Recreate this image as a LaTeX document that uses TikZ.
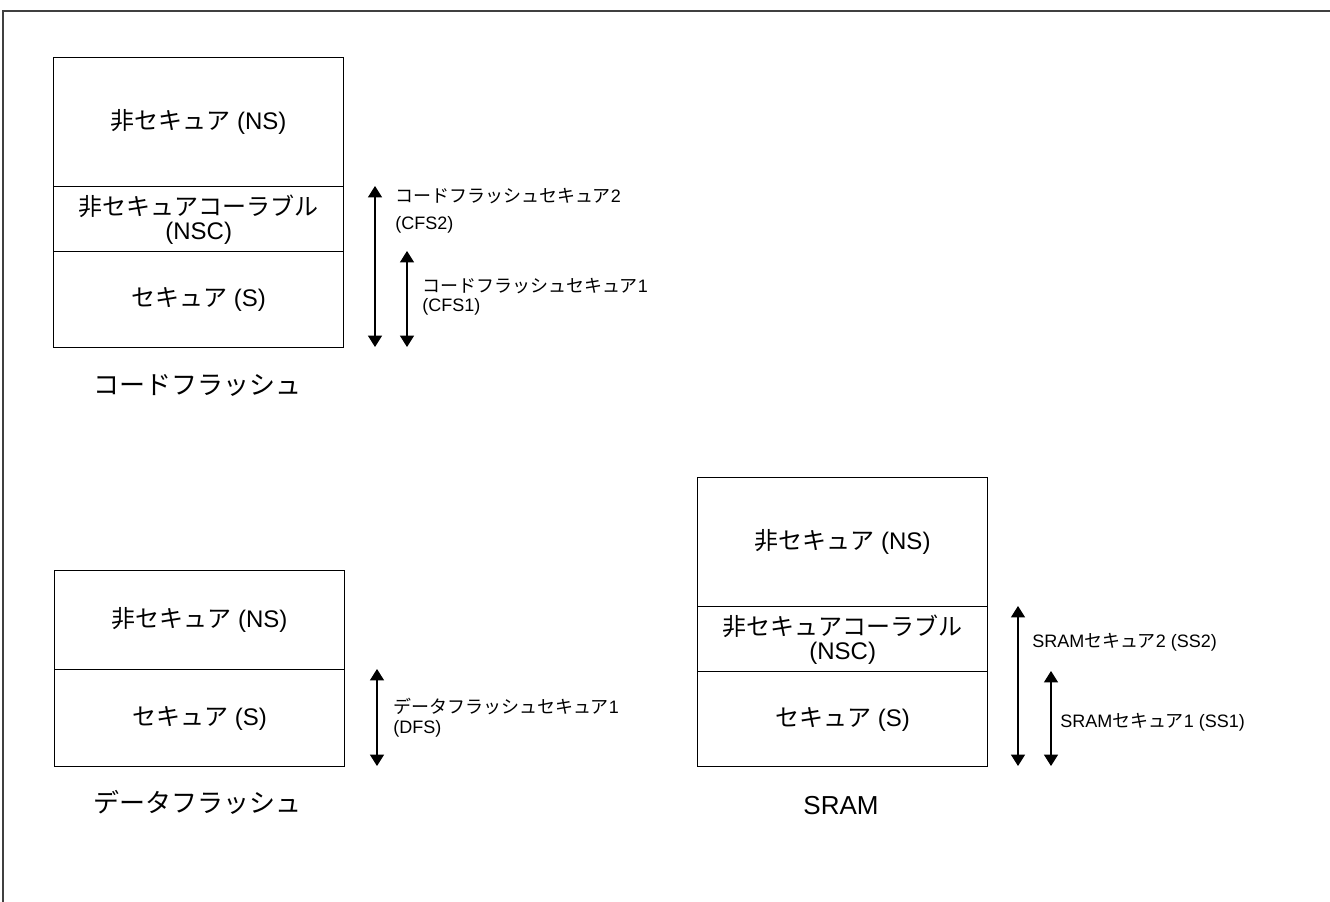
\documentclass[tikz,border=0pt]{standalone}
\usepackage{fontspec}
\setmainfont{Liberation Sans}
\newfontfamily\jpn{Noto Sans CJK JP}
\usetikzlibrary{arrows.meta}
\tikzset{
  region/.style={draw=black, line width=1.1pt, inner sep=0pt, anchor=north west,
    minimum width=217.5pt, align=center, font=\fontsize{18}{18}\selectfont},
  frameline/.style={draw=black!75, line width=0.8pt},
  dbl/.style={line width=0.8pt, {Triangle[width=10.5pt,length=8.5pt]}-{Triangle[width=10.5pt,length=8.5pt]}},
  lbl/.style={anchor=west, align=left, inner sep=0pt},
  ttl/.style={font=\fontsize{19.5}{19.5}\selectfont, inner sep=0pt}
}
\begin{document}
\begin{tikzpicture}[x=0.75pt, y=-0.75pt]
\useasboundingbox (0,0) rectangle (1330,902);
% frame
\coordinate (fTL) at (3,11);
\coordinate (fTR) at (1330,11);
\coordinate (fBL) at (3,902);
\draw[frameline] (fTR) -- (fTL) -- (fBL);

% ---------- Code flash ----------
\node[region, minimum height=129*0.75pt] (cfNS) at (53,57) {{\jpn 非セキュア} (NS)};
\node[region, minimum height=65*0.75pt] (cfNSC) at (53,186) {{\jpn 非セキュアコーラブル}\\(NSC)};
\node[region, minimum height=96*0.75pt] (cfS) at (53,251) {{\jpn セキュア} (S)};
\node[ttl] (cfT) at (197,385) {\jpn コードフラッシュ};

\coordinate (cf2t) at (375,186);
\coordinate (cf2b) at (375,347);
\coordinate (cf1t) at (407,251);
\coordinate (cf1b) at (407,347);
\draw[dbl] (cf2t) -- (cf2b);
\draw[dbl] (cf1t) -- (cf1b);
\node[lbl, font=\fontsize{13.5}{20}\selectfont] (cf2L) at (395,211) {{\jpn コードフラッシュセキュア}2\\(CFS2)};
\node[lbl, font=\fontsize{13.5}{14}\selectfont] (cf1L) at (422,297) {{\jpn コードフラッシュセキュア}1\\(CFS1)};

% ---------- Data flash ----------
\node[region, minimum height=99*0.75pt] (dfNS) at (54,570) {{\jpn 非セキュア} (NS)};
\node[region, minimum height=97*0.75pt] (dfS) at (54,669) {{\jpn セキュア} (S)};
\node[ttl] (dfT) at (197,802) {\jpn データフラッシュ};

\coordinate (dft) at (377,669);
\coordinate (dfb) at (377,766);
\draw[dbl] (dft) -- (dfb);
\node[lbl, font=\fontsize{13.5}{15}\selectfont] (dfL) at (393,718) {{\jpn データフラッシュセキュア}1\\(DFS)};

% ---------- SRAM ----------
\node[region, minimum height=129*0.75pt] (srNS) at (697,477) {{\jpn 非セキュア} (NS)};
\node[region, minimum height=65*0.75pt] (srNSC) at (697,606) {{\jpn 非セキュアコーラブル}\\(NSC)};
\node[region, minimum height=95*0.75pt] (srS) at (697,671) {{\jpn セキュア} (S)};
\node[ttl] (srT) at (841,806) {SRAM};

\coordinate (sr2t) at (1018,606);
\coordinate (sr2b) at (1018,766);
\coordinate (sr1t) at (1051,671);
\coordinate (sr1b) at (1051,766);
\draw[dbl] (sr2t) -- (sr2b);
\draw[dbl] (sr1t) -- (sr1b);
\node[lbl, font=\fontsize{13.5}{15}\selectfont] (sr2L) at (1032,642) {SRAM{\jpn セキュア}2 (SS2)};
\node[lbl, font=\fontsize{13.5}{15}\selectfont] (sr1L) at (1060,722) {SRAM{\jpn セキュア}1 (SS1)};
\end{tikzpicture}
\end{document}
